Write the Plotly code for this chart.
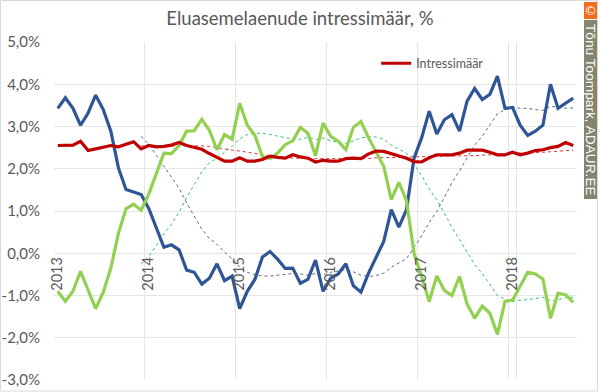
import plotly.graph_objects as go

months = [f"{y}-{m:02d}" for y in range(2013, 2019) for m in range(1, 13)][:69]
year_ticks = ["2013-01", "2014-01", "2015-01", "2016-01", "2017-01", "2018-01"]
year_labels = ["2013", "2014", "2015", "2016", "2017", "2018"]
y_ticks = [5, 4, 3, 2, 1, 0, -1, -2, -3]
y_labels = ["5,0%", "4,0%", "3,0%", "2,0%", "1,0%", "0,0%", "-1,0%", "-2,0%", "-3,0%"]

blue = [3.43, 3.68, 3.43, 3.03, 3.32, 3.74, 3.40, 2.89, 2.02, 1.51, 1.45, 1.39,
        1.06, 0.59, 0.14, 0.20, 0.08, -0.40, -0.45, -0.73, -0.59, -0.25, -0.65, -0.54,
        -1.31, -0.90, -0.62, -0.09, 0.04, -0.14, -0.36, -0.35, -0.71, -0.62, -0.16, -0.90,
        -0.59, -0.49, -0.25, -0.77, -0.92, -0.47, -0.09, 0.28, 1.03, 0.62, 1.03, 2.25,
        2.73, 3.36, 2.82, 3.16, 3.28, 2.89, 3.60, 3.90, 3.64, 3.76, 4.19, 3.43,
        3.45, 3.03, 2.79, 2.89, 3.03, 4.00, 3.43, 3.55, 3.67]
green = [-0.90, -1.14, -0.90, -0.43, -0.87, -1.31, -0.92, -0.35, 0.47, 1.05, 1.16, 1.02,
         1.40, 1.87, 2.37, 2.36, 2.55, 2.89, 2.90, 3.17, 2.91, 2.45, 2.81, 2.70,
         3.55, 3.03, 2.79, 2.29, 2.24, 2.37, 2.57, 2.66, 2.98, 2.84, 2.31, 3.08,
         2.77, 2.65, 2.45, 2.98, 3.12, 2.73, 2.41, 2.06, 1.27, 1.68, 1.25, 0.00,
         -0.55, -1.14, -0.54, -0.88, -1.00, -0.55, -1.20, -1.54, -1.25, -1.42, -1.92, -1.14,
         -1.11, -0.76, -0.45, -0.49, -0.61, -1.54, -0.95, -0.98, -1.16]
red = [2.55, 2.55, 2.56, 2.65, 2.43, 2.47, 2.51, 2.55, 2.52, 2.58, 2.64, 2.47,
       2.55, 2.52, 2.53, 2.56, 2.62, 2.55, 2.50, 2.46, 2.36, 2.26, 2.18, 2.18,
       2.26, 2.18, 2.18, 2.22, 2.30, 2.27, 2.25, 2.33, 2.28, 2.25, 2.16, 2.20,
       2.18, 2.18, 2.24, 2.25, 2.24, 2.35, 2.42, 2.41, 2.35, 2.29, 2.25, 2.17,
       2.16, 2.26, 2.33, 2.33, 2.33, 2.37, 2.44, 2.44, 2.44, 2.39, 2.33, 2.33,
       2.39, 2.33, 2.37, 2.43, 2.45, 2.50, 2.53, 2.62, 2.55]

trend_months = months[11:]
blue_trend = [2.77, 2.58, 2.32, 2.05, 1.81, 1.54, 1.19, 0.87, 0.57, 0.35, 0.21, 0.03, -0.13,
              -0.33, -0.45, -0.51, -0.54, -0.54, -0.52, -0.51, -0.48, -0.49, -0.52, -0.48, -0.51,
              -0.45, -0.42, -0.39, -0.44, -0.52, -0.55, -0.53, -0.47, -0.33, -0.23, -0.13, 0.14,
              0.41, 0.73, 0.99, 1.32, 1.67, 1.95, 2.25, 2.56, 2.77, 3.04, 3.30, 3.40,
              3.46, 3.43, 3.43, 3.40, 3.38, 3.48, 3.46, 3.43, 3.44]
green_trend = [-0.26, -0.07, 0.18, 0.46, 0.69, 0.97, 1.32, 1.64, 1.93, 2.14, 2.25, 2.39, 2.53,
               2.71, 2.81, 2.84, 2.84, 2.81, 2.77, 2.74, 2.70, 2.70, 2.74, 2.69, 2.73,
               2.66, 2.63, 2.60, 2.66, 2.73, 2.76, 2.75, 2.70, 2.56, 2.46, 2.37, 2.11,
               1.84, 1.52, 1.27, 0.95, 0.61, 0.33, 0.03, -0.27, -0.48, -0.74, -1.00, -1.09,
               -1.14, -1.11, -1.10, -1.07, -1.04, -1.12, -1.10, -1.05, -1.04]
red_trend = [2.54, 2.54, 2.54, 2.54, 2.53, 2.54, 2.55, 2.55, 2.54, 2.53, 2.50, 2.46, 2.44,
             2.42, 2.39, 2.36, 2.33, 2.30, 2.28, 2.26, 2.25, 2.24, 2.24, 2.24, 2.24,
             2.23, 2.23, 2.24, 2.24, 2.24, 2.24, 2.26, 2.26, 2.27, 2.27, 2.28, 2.28,
             2.28, 2.28, 2.29, 2.30, 2.30, 2.31, 2.31, 2.31, 2.32, 2.33, 2.33, 2.35,
             2.37, 2.37, 2.37, 2.38, 2.39, 2.40, 2.41, 2.43, 2.44]

FONT = "Lato"
TXT = "#595959"
GRID = "#e6e6e6"
W, H = 600, 392
L, R, T, B = 54, 577, 42, 380


def px(v):
    return (v - L) / (R - L)


def py(v):
    return (B - v) / (B - T)


fig = go.Figure()
fig.add_trace(go.Scatter(x=trend_months, y=blue_trend, mode="lines", showlegend=False, hoverinfo="skip",
                         line=dict(color="#5a6a88", width=1, dash="dot")))
fig.add_trace(go.Scatter(x=trend_months, y=green_trend, mode="lines", showlegend=False, hoverinfo="skip",
                         line=dict(color="#2fc472", width=1, dash="dot")))
fig.add_trace(go.Scatter(x=trend_months, y=red_trend, mode="lines", showlegend=False, hoverinfo="skip",
                         line=dict(color="#e0303a", width=1, dash="dot")))
fig.add_trace(go.Scatter(x=months, y=blue, mode="lines", showlegend=False,
                         line=dict(color="#2f5597", width=3.2)))
fig.add_trace(go.Scatter(x=months, y=green, mode="lines", showlegend=False,
                         line=dict(color="#92d050", width=3.2)))
fig.add_trace(go.Scatter(x=months, y=red, mode="lines", name="Intressimäär", showlegend=True,
                         line=dict(color="#c00000", width=3.2)))

fig.update_layout(
    width=W, height=H, autosize=False,
    margin=dict(l=L, r=W - R, t=T, b=H - B),
    paper_bgcolor="white", plot_bgcolor="white",
    font=dict(family=FONT, color=TXT),
    title=dict(text="Eluasemelaenude intressimäär, %", font=dict(size=18.5, color=TXT, family=FONT),
               x=0.5, xanchor="center", xref="container", y=1 - 19 / H, yanchor="middle"),
    legend=dict(x=0.616, y=0.936, xanchor="left", yanchor="middle", bgcolor="rgba(0,0,0,0)",
                font=dict(size=12.5, color=TXT, family=FONT), itemwidth=30),
    xaxis=dict(type="category", categoryorder="array", categoryarray=months,
               tickmode="array", tickvals=year_ticks, ticktext=year_labels, tickson="boundaries",
               tickangle=-90, tickfont=dict(size=14.5, color=TXT, family=FONT),
               showgrid=True, gridcolor=GRID, gridwidth=1.3,
               anchor="free", position=0.375, showline=False, ticks="outside", ticklen=10,
               tickcolor="rgba(0,0,0,0)", zeroline=False, range=[-0.5, 68.5]),
    yaxis=dict(range=[-3, 5], tickmode="array", tickvals=y_ticks, ticktext=y_labels,
               tickfont=dict(size=15, color=TXT, family=FONT), showgrid=True, gridcolor=GRID,
               gridwidth=1.3, zeroline=False, showline=False, ticks="outside", ticklen=10,
               tickcolor="rgba(0,0,0,0)", automargin=False),
    shapes=[
        dict(type="rect", xref="paper", yref="paper", x0=px(0.5), x1=px(597.5), y0=py(391), y1=py(0.5),
             line=dict(color="#d9d9d9", width=1), fillcolor="rgba(0,0,0,0)", layer="below"),
        dict(type="rect", xref="paper", yref="paper", x0=px(584), x1=px(597), y0=py(19), y1=py(2),
             line=dict(width=0), fillcolor="#f26a1b", layer="below"),
        dict(type="rect", xref="paper", yref="paper", x0=px(584), x1=px(597), y0=py(199), y1=py(20),
             line=dict(width=0), fillcolor="#84846f", layer="below"),
    ],
    annotations=[
        dict(text="©", xref="paper", yref="paper", x=px(590.5), y=py(10.5), xanchor="center", yanchor="middle",
             showarrow=False, font=dict(size=13, color="white", family="DejaVu Sans")),
        dict(text="Tõnu Toompark, ADAUR.EE", xref="paper", yref="paper", xanchor="center", yanchor="middle",
             x=px(590.5), y=py(109.5), textangle=90, showarrow=False,
             font=dict(size=13.7, color="white", family="Liberation Sans")),
    ],
)
fig.write_html("out.html", config={"displayModeBar": False},
               post_script="document.body.style.margin='0';")
